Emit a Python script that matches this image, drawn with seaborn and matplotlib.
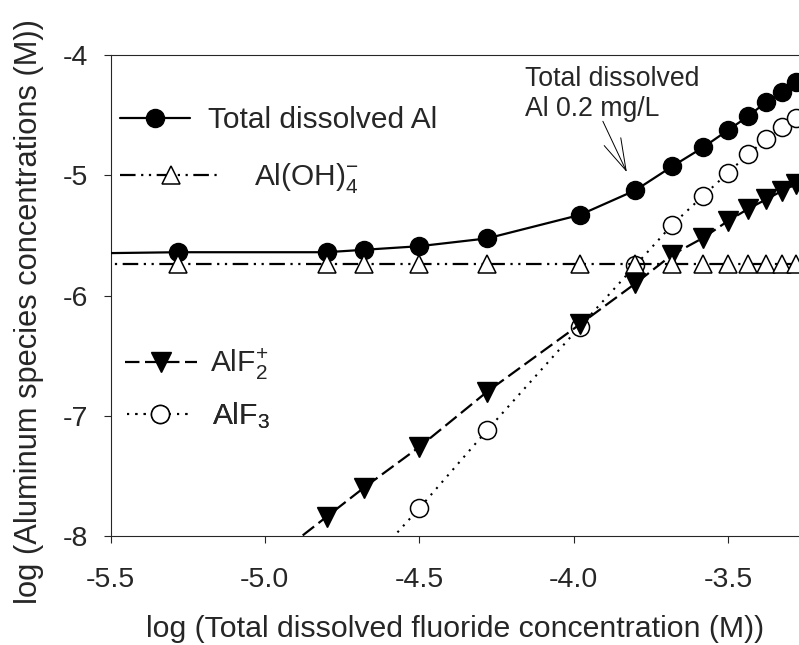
import matplotlib
matplotlib.use("Agg")
import matplotlib.pyplot as plt
from matplotlib.patches import ArrowStyle
import numpy as np
import pandas as pd
import seaborn as sns

# log total dissolved fluoride (M)
log_f = [-5.58, -5.28, -4.80, -4.68, -4.50, -4.28, -3.98, -3.80,
         -3.68, -3.58, -3.50, -3.435, -3.376, -3.325, -3.279]
# log species concentrations (M)
total_al = [-5.65, -5.64, -5.64, -5.62, -5.59, -5.525, -5.33, -5.125,
            -4.925, -4.767, -4.625, -4.51, -4.39, -4.31, -4.225]
al_oh4 = [-5.74] * 15
alf2 = [-9.4, -8.8, -7.84, -7.60, -7.26, -6.80, -6.24, -5.90,
        -5.66, -5.52, -5.38, -5.28, -5.20, -5.13, -5.075]
alf3 = [-11.0, -10.1, -8.65, -8.28, -7.77, -7.12, -6.26, -5.75,
        -5.41, -5.17, -4.98, -4.825, -4.70, -4.60, -4.52]

series_names = ["Total dissolved Al", r"Al(OH)$_4^{-}$", r"AlF$_2^{+}$", r"AlF$_3$"]
x_ticks = [-5.5, -5.0, -4.5, -4.0, -3.5]
y_ticks = [-4, -5, -6, -7, -8]

sns.set_style("ticks")
plt.rcParams["font.family"] = ["Liberation Sans", "DejaVu Sans"]
plt.rcParams["mathtext.fontset"] = "custom"
plt.rcParams["mathtext.rm"] = "Liberation Sans"
plt.rcParams["mathtext.it"] = "Liberation Sans:italic"
plt.rcParams["mathtext.bf"] = "Liberation Sans:bold"

df = pd.DataFrame({"logF": log_f, "total": total_al, "aloh4": al_oh4,
                   "alf2": alf2, "alf3": alf3})

fig = plt.figure(figsize=(7.99, 6.45), dpi=100)
ax = fig.add_axes([0.1383, 0.169, 0.8617, 0.7457])

ms = 13
common = dict(ax=ax, x="logF", data=df, errorbar=None, legend=False, color="black")

sns.lineplot(y="alf3", linestyle=(0, (1, 3)), lw=1.5, marker="o", ms=ms,
             mfc="white", mec="black", mew=1.1, zorder=3, **common)
h_alf3 = ax.lines[-1]
sns.lineplot(y="alf2", linestyle=(0, (6.5, 2.5)), lw=1.6, marker="v", ms=ms + 1,
             mfc="black", mec="black", mew=1.0, zorder=4, **common)
h_alf2 = ax.lines[-1]
sns.lineplot(y="total", linestyle="-", lw=1.6, marker="o", ms=ms,
             mfc="black", mec="black", mew=1.0, zorder=5, **common)
h_total = ax.lines[-1]
sns.lineplot(y="aloh4", linestyle=(0, (7, 2.5, 1, 2.5, 1, 2.5)), lw=1.6,
             marker="^", ms=ms, mfc="white", mec="black", mew=1.1, zorder=6, **common)
h_aloh4 = ax.lines[-1]

ax.set_xlim(-5.5, -3.27)
ax.set_ylim(-8, -4)
ax.set_xticks(x_ticks)
ax.set_xticklabels([f"{v:.1f}" for v in x_ticks])
ax.set_yticks(y_ticks)
ax.set_yticklabels([f"{v:d}" for v in y_ticks])
ax.tick_params(axis="x", direction="out", length=5, width=0.8, labelsize=20.5, pad=17)
ax.tick_params(axis="y", direction="out", length=5, width=0.8, labelsize=20.5, pad=11)
for s in ["left", "bottom", "top"]:
    ax.spines[s].set_linewidth(0.8)
ax.spines["right"].set_visible(False)

ax.set_xlabel("log (Total dissolved fluoride concentration (M))", fontsize=21.8, labelpad=16)
ax.set_ylabel("log (Aluminum species concentrations (M))", fontsize=22.2)
ax.yaxis.set_label_coords(-0.097, 0.466)

# legend: one entry per block so each sample line can have its own length
entries = [
    (h_total, series_names[0], 2.34, 0.6, 0.0140, 0.864),
    (h_aloh4, series_names[1], 3.41, 1.07, 0.0140, 0.744),
    (h_alf2, series_names[2], 2.41, 0.43, 0.0215, 0.357),
    (h_alf3, series_names[3], 2.20, 0.65, 0.0240, 0.250),
]
for h, lab, hl, tp, bx, by in entries:
    leg = ax.legend([h], [lab], loc="center left", bbox_to_anchor=(bx, by),
                    frameon=False, fontsize=21.5, handlelength=hl, handletextpad=tp,
                    borderpad=0, borderaxespad=0, numpoints=1)
    ax.add_artist(leg)

# annotation for the 0.2 mg/L total aluminium point
ax.text(-4.158, -4.095, "Total dissolved\nAl 0.2 mg/L", fontsize=19.2, ha="left", va="top",
        linespacing=1.17)
ax.annotate("", xy=(log_f[7], total_al[7]), xytext=(-23.4, 49.7), textcoords="offset points",
            arrowprops=dict(arrowstyle=ArrowStyle("->", head_length=1.15, head_width=0.33),
                            mutation_scale=20, lw=0.7, color="black",
                            shrinkA=0, shrinkB=14.4))

fig.savefig("out.png", dpi=100)
